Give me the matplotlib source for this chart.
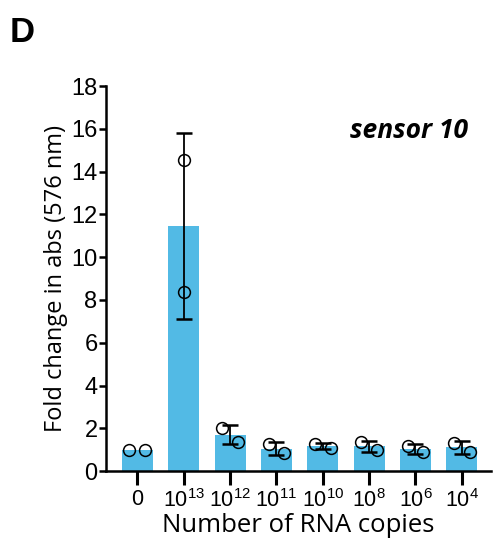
import numpy as np
import matplotlib
matplotlib.use("Agg")
import matplotlib.pyplot as plt

plt.rcParams["mathtext.fontset"] = "custom"
plt.rcParams["mathtext.rm"] = "Liberation Sans"

# RNA copy numbers tested, two replicates each
labels = ["0", "$10^{13}$", "$10^{12}$", "$10^{11}$", "$10^{10}$", "$10^{8}$", "$10^{6}$", "$10^{4}$"]
rep1 = [0.99, 14.55, 2.02, 1.27, 1.28, 1.34, 1.19, 1.33]
rep2 = [0.99, 8.38, 1.38, 0.83, 1.08, 0.97, 0.88, 0.88]
# horizontal scatter of the replicate dots
jitter = [0.17, 0.0, 0.17, 0.17, 0.17, 0.17, 0.17, 0.17]

reps = np.array([rep1, rep2])
means = reps.mean(axis=0)
sds = reps.std(axis=0, ddof=1)
x = np.arange(len(labels))
jit = np.array(jitter)

fig = plt.figure(figsize=(4.97, 5.49), dpi=100)
ax = fig.add_axes([0.213, 0.142, 0.775, 0.701])

ax.bar(x, means, width=0.67, color="#52BAE5", zorder=1)
# error bars smaller than the symbols are not drawn (like Prism does)
show = sds > 0.05
ax.errorbar(x[show], means[show], yerr=sds[show], fmt="none", ecolor="black",
            elinewidth=1.3, capsize=5.5, capthick=1.8, zorder=2)
ax.plot(x - jit, rep1, "o", mfc="none", mec="black", mew=1.1, ms=8.5, zorder=3)
ax.plot(x + jit, rep2, "o", mfc="none", mec="black", mew=1.1, ms=8.5, zorder=3)

ax.set_xlim(-0.68, 7.63)
ax.set_ylim(0, 18)
ax.set_yticks(np.arange(0, 19, 2))
ax.set_xticks(x)
ax.set_xticklabels(labels)

for s in ["top", "right"]:
    ax.spines[s].set_visible(False)
for s in ["left", "bottom"]:
    ax.spines[s].set_linewidth(1.8)

ax.tick_params(axis="y", length=5, width=1.8, pad=1, labelsize=17)
ax.tick_params(axis="x", length=10, width=2.2, pad=3, labelsize=15.5)
for t in ax.get_xticklabels() + ax.get_yticklabels():
    t.set_family("Liberation Sans")

ax.set_ylabel("Fold change in abs (576 nm)", family="Open Sans", fontsize=17, labelpad=2)
ax.set_xlabel("Number of RNA copies", family="Open Sans", fontsize=18.5, labelpad=1)

ax.text(0.94, 0.886, "sensor 10", transform=ax.transAxes, ha="right", va="center",
        family="Open Sans", fontsize=19, fontweight="bold", style="italic")

fig.text(0.02, 0.9235, "D", family="Liberation Sans", fontsize=25, fontweight="bold")

fig.savefig("out.png", dpi=100)
